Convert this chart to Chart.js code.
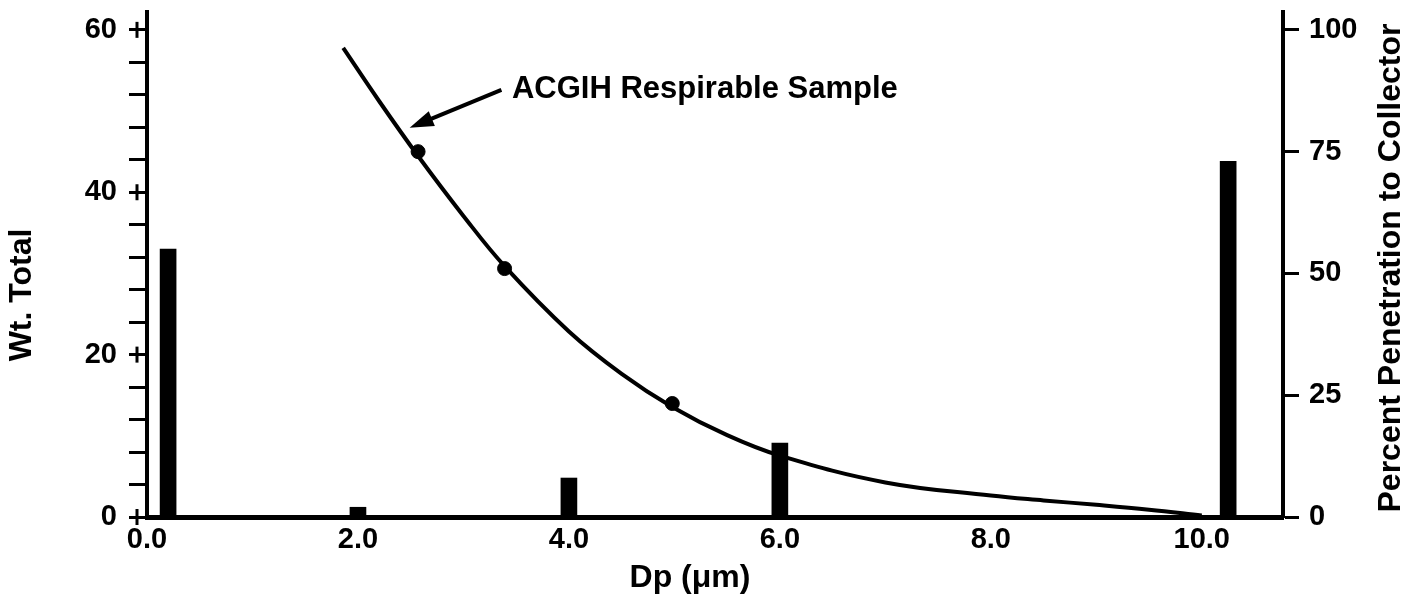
<!DOCTYPE html>
<html>
<head>
<meta charset="utf-8">
<script src="https://cdn.jsdelivr.net/npm/chart.js@4"></script>
<style>
  html, body { margin: 0; padding: 0; background: #fff; }
  #wrap { width: 1421px; height: 596px; }
</style>
</head>
<body>
<div id="wrap"><canvas id="chart" width="1421" height="596"></canvas></div>
<script>
// Wt. total bars by particle size
const barDp = [0.2, 2.0, 4.0, 6.0, 10.25];
const barWt = [33, 1.2, 4.8, 9.1, 43.8];

// ACGIH respirable penetration curve (right axis)
const curveDp = [1.86, 2.2, 2.57, 3.0, 3.39, 4.0, 4.5, 4.98, 5.5, 6.0, 7.0, 8.0, 8.5, 9.0, 9.5, 10.0];
const curvePct = [96.3, 85.4, 74.1, 61.8, 51.5, 38.1, 29.4, 22.6, 16.8, 12.6, 7.1, 4.4, 3.4, 2.5, 1.5, 0.3];

// measured sample points
const sampleDp = [2.57, 3.39, 4.98];
const samplePct = [75, 51, 23.3];

// axis ticks
const leftMajor = [0, 20, 40, 60];
const rightTicks = [0, 25, 50, 75, 100];
const xTicks = [0, 2, 4, 6, 8, 10];

const xTitle = "Dp (\u03bcm)";
const leftTitle = "Wt. Total";
const rightTitle = "Percent Penetration to Collector";
const annotationText = "ACGIH Respirable Sample";

const FONT = "'Liberation Sans', Arial, sans-serif";
Chart.defaults.font.family = FONT;
Chart.defaults.font.weight = "bold";
Chart.defaults.color = "#000";

const toPoints = (xs, ys) => xs.map((x, i) => ({ x: x, y: ys[i] }));

// drop the edge padding chart.js reserves for tick labels
const noPad = (s) => {
  s.paddingTop = 0;
  s.paddingBottom = 0;
  s.paddingLeft = 0;
  s.paddingRight = 0;
};

function rotatedText(ctx, text, cx, cy) {
  ctx.save();
  ctx.translate(cx, cy);
  ctx.rotate(-Math.PI / 2);
  ctx.fillText(text, 0, 0);
  ctx.restore();
}

// plus marks on the left axis, axis titles, arrow annotation
const decorations = {
  id: "decorations",
  afterDraw(chart) {
    const { ctx, scales } = chart;
    const x = scales.x, y = scales.y, y2 = scales.y2;
    ctx.save();
    ctx.strokeStyle = "#000";
    ctx.fillStyle = "#000";

    ctx.lineWidth = 3;
    leftMajor.forEach((v) => {
      const py = y.getPixelForValue(v);
      ctx.beginPath();
      ctx.moveTo(y.right - 10, py - 8);
      ctx.lineTo(y.right - 10, py + 8);
      ctx.stroke();
    });

    // axis titles (both vertical ones read bottom to top)
    ctx.textAlign = "center";
    ctx.textBaseline = "middle";
    ctx.font = "bold 32px " + FONT;
    rotatedText(ctx, leftTitle, 22, 295);
    rotatedText(ctx, rightTitle, 1391, 268);
    ctx.fillText(xTitle, 690, 578);

    // arrow from label to the curve
    const tx = x.getPixelForValue(3.36), ty = y2.getPixelForValue(87.7);
    const hx = x.getPixelForValue(2.49), hy = y2.getPixelForValue(79.9);
    const ang = Math.atan2(hy - ty, hx - tx);
    ctx.lineWidth = 4;
    ctx.beginPath();
    ctx.moveTo(tx, ty);
    ctx.lineTo(hx - 16 * Math.cos(ang), hy - 16 * Math.sin(ang));
    ctx.stroke();
    ctx.beginPath();
    ctx.moveTo(hx, hy);
    ctx.lineTo(hx - 24 * Math.cos(ang) + 8 * Math.sin(ang), hy - 24 * Math.sin(ang) - 8 * Math.cos(ang));
    ctx.lineTo(hx - 24 * Math.cos(ang) - 8 * Math.sin(ang), hy - 24 * Math.sin(ang) + 8 * Math.cos(ang));
    ctx.closePath();
    ctx.fill();

    ctx.font = "bold 31px " + FONT;
    ctx.textAlign = "left";
    ctx.fillText(annotationText, x.getPixelForValue(3.46), y2.getPixelForValue(87.7));
    ctx.restore();
  },
};

new Chart(document.getElementById("chart"), {
  type: "bar",
  data: {
    datasets: [
      {
        type: "bar",
        label: "Wt. Total",
        data: toPoints(barDp, barWt),
        backgroundColor: "#000",
        barThickness: 16,
        yAxisID: "y",
      },
      {
        type: "line",
        label: "ACGIH Respirable Sample",
        data: toPoints(curveDp, curvePct),
        borderColor: "#000",
        borderWidth: 4,
        pointRadius: 0,
        tension: 0.4,
        fill: false,
        yAxisID: "y2",
      },
      {
        type: "scatter",
        label: "Samples",
        data: toPoints(sampleDp, samplePct),
        backgroundColor: "#000",
        borderColor: "#000",
        pointRadius: 7,
        yAxisID: "y2",
      },
    ],
  },
  options: {
    responsive: false,
    animation: false,
    events: [],
    layout: { padding: { top: 12, left: 0, right: 0, bottom: 0 } },
    plugins: {
      legend: { display: false },
      tooltip: { enabled: false },
    },
    scales: {
      x: {
        type: "linear",
        offset: false,
        min: 0,
        max: 10.77,
        afterFit: (s) => { s.height = 79; noPad(s); },
        afterBuildTicks: (s) => { s.ticks = xTicks.map((v) => ({ value: v })); },
        ticks: {
          autoSkip: false,
          maxRotation: 0,
          font: { size: 29, weight: "bold" },
          padding: 6,
          callback: (v) => Number(v).toFixed(1),
        },
        grid: { display: false, drawTicks: false, offset: false },
        border: { display: true, color: "#000", width: 5 },
      },
      y: {
        position: "left",
        min: 0,
        max: 62.2,
        afterFit: (s) => { s.width = 147; noPad(s); },
        ticks: {
          stepSize: 4,
          autoSkip: false,
          includeBounds: false,
          font: { size: 29, weight: "bold" },
          padding: 12,
          callback: (v) => (leftMajor.includes(v) ? v : ""),
        },
        grid: {
          drawOnChartArea: false,
          tickLength: 18,
          tickWidth: 3,
          tickColor: "#000",
        },
        border: { display: true, color: "#000", width: 4 },
      },
      y2: {
        position: "right",
        min: 0,
        max: 103.67,
        afterFit: (s) => { s.width = 138; noPad(s); },
        afterBuildTicks: (s) => { s.ticks = rightTicks.map((v) => ({ value: v })); },
        ticks: {
          autoSkip: false,
          font: { size: 29, weight: "bold" },
          padding: 10,
        },
        grid: {
          drawOnChartArea: false,
          tickLength: 16,
          tickWidth: 3,
          tickColor: "#000",
        },
        border: { display: true, color: "#000", width: 4 },
      },
    },
  },
  plugins: [decorations],
});
</script>
</body>
</html>
